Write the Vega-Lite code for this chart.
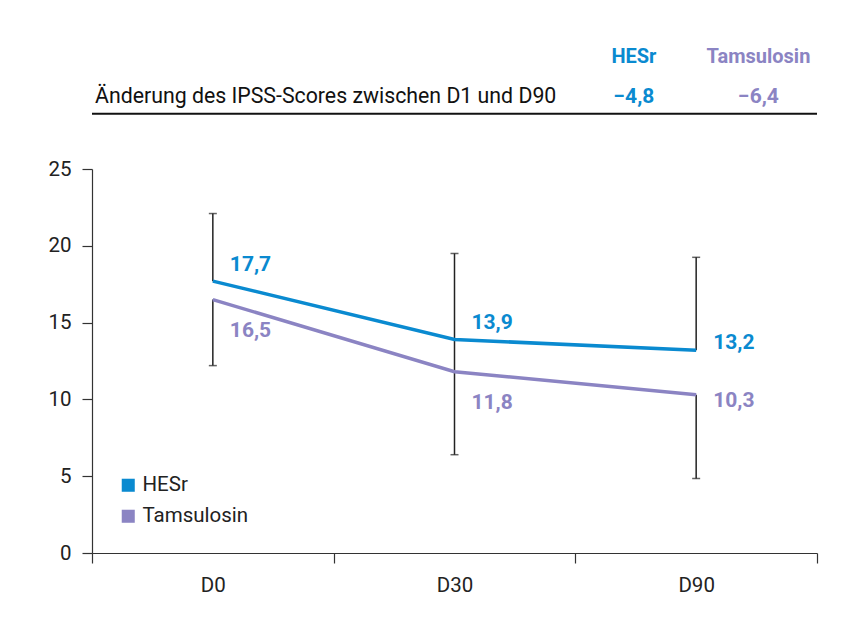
{
  "$schema": "https://vega.github.io/schema/vega-lite/v6.json",
  "width": 725,
  "height": 384,
  "autosize": {"type": "none"},
  "padding": {"left": 92, "top": 169, "right": 37, "bottom": 70},
  "background": "white",
  "config": {
    "locale": {"number": {"decimal": ",", "thousands": ".", "grouping": [3], "currency": ["", " €"]}},
    "font": "Roboto",
    "view": {"stroke": null},
    "axis": {"domainColor": "#333", "tickColor": "#333", "labelColor": "#222", "labelFontSize": 20.5, "labelFont": "Roboto", "grid": false, "domainWidth": 1.2, "tickWidth": 1.2}
  },
  "datasets": {
    "series": [
      {"t": "D0", "g": "HESr", "v": 17.7},
      {"t": "D30", "g": "HESr", "v": 13.9},
      {"t": "D90", "g": "HESr", "v": 13.2},
      {"t": "D0", "g": "Tamsulosin", "v": 16.5},
      {"t": "D30", "g": "Tamsulosin", "v": 11.8},
      {"t": "D90", "g": "Tamsulosin", "v": 10.3}
    ],
    "errors": [
      {"t": "D0", "lo": 17.7, "hi": 22.1},
      {"t": "D0", "lo": 12.2, "hi": 16.5},
      {"t": "D30", "lo": 6.4, "hi": 19.5},
      {"t": "D90", "lo": 13.2, "hi": 19.25},
      {"t": "D90", "lo": 4.85, "hi": 10.3}
    ],
    "header": [
      {"g": "HESr", "change": -4.8},
      {"g": "Tamsulosin", "change": -6.4}
    ],
    "rowlabel": [
      {"label": "Änderung des IPSS-Scores zwischen D1 und D90"}
    ]
  },
  "layer": [
    {
      "data": {"name": "errors"},
      "mark": {"type": "rule", "color": "#222", "strokeWidth": 1.5},
      "encoding": {
        "x": {"field": "t", "type": "nominal", "title": null,
              "scale": {"domain": ["D0", "D30", "D90"], "paddingInner": 0, "paddingOuter": 0},
              "axis": {"labelAngle": 0, "tickBand": "extent", "tickSize": 10, "labelPadding": 12, "domainColor": "#333"}},
        "y": {"field": "lo", "type": "quantitative", "title": null,
              "scale": {"domain": [0, 25], "nice": false, "zero": true},
              "axis": {"values": [0, 5, 10, 15, 20, 25], "tickSize": 10, "labelPadding": 11}},
        "y2": {"field": "hi"}
      }
    },
    {
      "data": {"name": "errors"},
      "transform": [{"filter": "datum.hi > 17"}],
      "mark": {"type": "tick", "orient": "horizontal", "color": "#222", "size": 8, "thickness": 1.5},
      "encoding": {
        "x": {"field": "t", "type": "nominal", "title": null},
        "y": {"field": "hi", "type": "quantitative", "title": null}
      }
    },
    {
      "data": {"name": "errors"},
      "transform": [{"filter": "datum.lo < 13"}],
      "mark": {"type": "tick", "orient": "horizontal", "color": "#222", "size": 8, "thickness": 1.5},
      "encoding": {
        "x": {"field": "t", "type": "nominal", "title": null},
        "y": {"field": "lo", "type": "quantitative", "title": null}
      }
    },
    {
      "data": {"name": "series"},
      "mark": {"type": "line", "strokeWidth": 3.5},
      "encoding": {
        "x": {"field": "t", "type": "nominal", "title": null},
        "y": {"field": "v", "type": "quantitative", "title": null},
        "color": {"field": "g", "type": "nominal", "title": null,
                  "scale": {"domain": ["HESr", "Tamsulosin"], "range": ["#0a8ad0", "#8b84c3"]},
                  "legend": {"orient": "bottom-left", "offset": 26, "title": null, "symbolType": "square", "symbolSize": 170,
                             "labelFontSize": 20.5, "labelColor": "#222", "labelFont": "Roboto", "rowPadding": 10, "labelOffset": 4,
                             "symbolStrokeWidth": 0,
                             "encode": {"symbols": {"update": {"fill": {"scale": "color", "field": "value"}, "stroke": {"value": "transparent"}}}}}}
      }
    },
    {
      "data": {"name": "series"},
      "transform": [{"filter": "datum.g == 'HESr' && datum.t != 'D90'"}],
      "mark": {"type": "text", "align": "left", "baseline": "middle", "dx": 17, "dy": -16, "fontSize": 21, "fontWeight": "bold"},
      "encoding": {
        "x": {"field": "t", "type": "nominal", "title": null},
        "y": {"field": "v", "type": "quantitative", "title": null},
        "text": {"field": "v", "type": "quantitative", "format": ".1f"},
        "color": {"field": "g", "type": "nominal"}
      }
    },
    {
      "data": {"name": "series"},
      "transform": [{"filter": "datum.g == 'Tamsulosin' && datum.t != 'D90'"}],
      "mark": {"type": "text", "align": "left", "baseline": "middle", "dx": 17, "dy": 31, "fontSize": 21, "fontWeight": "bold"},
      "encoding": {
        "x": {"field": "t", "type": "nominal", "title": null},
        "y": {"field": "v", "type": "quantitative", "title": null},
        "text": {"field": "v", "type": "quantitative", "format": ".1f"},
        "color": {"field": "g", "type": "nominal"}
      }
    },
    {
      "data": {"name": "series"},
      "transform": [{"filter": "datum.g == 'HESr' && datum.t == 'D90'"}],
      "mark": {"type": "text", "align": "left", "baseline": "middle", "dx": 17, "dy": -7, "fontSize": 21, "fontWeight": "bold"},
      "encoding": {
        "x": {"field": "t", "type": "nominal", "title": null},
        "y": {"field": "v", "type": "quantitative", "title": null},
        "text": {"field": "v", "type": "quantitative", "format": ".1f"},
        "color": {"field": "g", "type": "nominal"}
      }
    },
    {
      "data": {"name": "series"},
      "transform": [{"filter": "datum.g == 'Tamsulosin' && datum.t == 'D90'"}],
      "mark": {"type": "text", "align": "left", "baseline": "middle", "dx": 17, "dy": 6, "fontSize": 21, "fontWeight": "bold"},
      "encoding": {
        "x": {"field": "t", "type": "nominal", "title": null},
        "y": {"field": "v", "type": "quantitative", "title": null},
        "text": {"field": "v", "type": "quantitative", "format": ".1f"},
        "color": {"field": "g", "type": "nominal"}
      }
    },
    {
      "data": {"name": "header"},
      "mark": {"type": "text", "align": "center", "baseline": "middle", "fontSize": 20, "fontWeight": "bold"},
      "encoding": {
        "x": {"datum": "D90", "title": null},
        "xOffset": {"field": "g", "type": "nominal", "scale": {"type": "point", "padding": 0.47}},
        "y": {"datum": 32.3, "title": null},
        "text": {"field": "g", "type": "nominal"},
        "color": {"field": "g", "type": "nominal"}
      }
    },
    {
      "data": {"name": "header"},
      "mark": {"type": "text", "align": "center", "baseline": "middle", "fontSize": 21, "fontWeight": "bold"},
      "encoding": {
        "x": {"datum": "D90", "title": null},
        "xOffset": {"field": "g", "type": "nominal"},
        "y": {"datum": 29.7, "title": null},
        "text": {"field": "change", "type": "quantitative", "format": ".1f"},
        "color": {"field": "g", "type": "nominal"}
      }
    },
    {
      "data": {"name": "rowlabel"},
      "mark": {"type": "text", "align": "left", "baseline": "middle", "fontSize": 21.3, "color": "#111", "dx": 3},
      "encoding": {
        "x": {"datum": "D0", "bandPosition": 0, "title": null},
        "y": {"datum": 29.7, "title": null},
        "text": {"field": "label", "type": "nominal"}
      }
    },
    {
      "data": {"name": "rowlabel"},
      "mark": {"type": "rule", "color": "#111", "strokeWidth": 2},
      "encoding": {
        "x": {"datum": "D0", "bandPosition": 0, "title": null},
        "x2": {"datum": "D90", "bandPosition": 1},
        "y": {"datum": 28.6, "title": null}
      }
    }
  ]
}
